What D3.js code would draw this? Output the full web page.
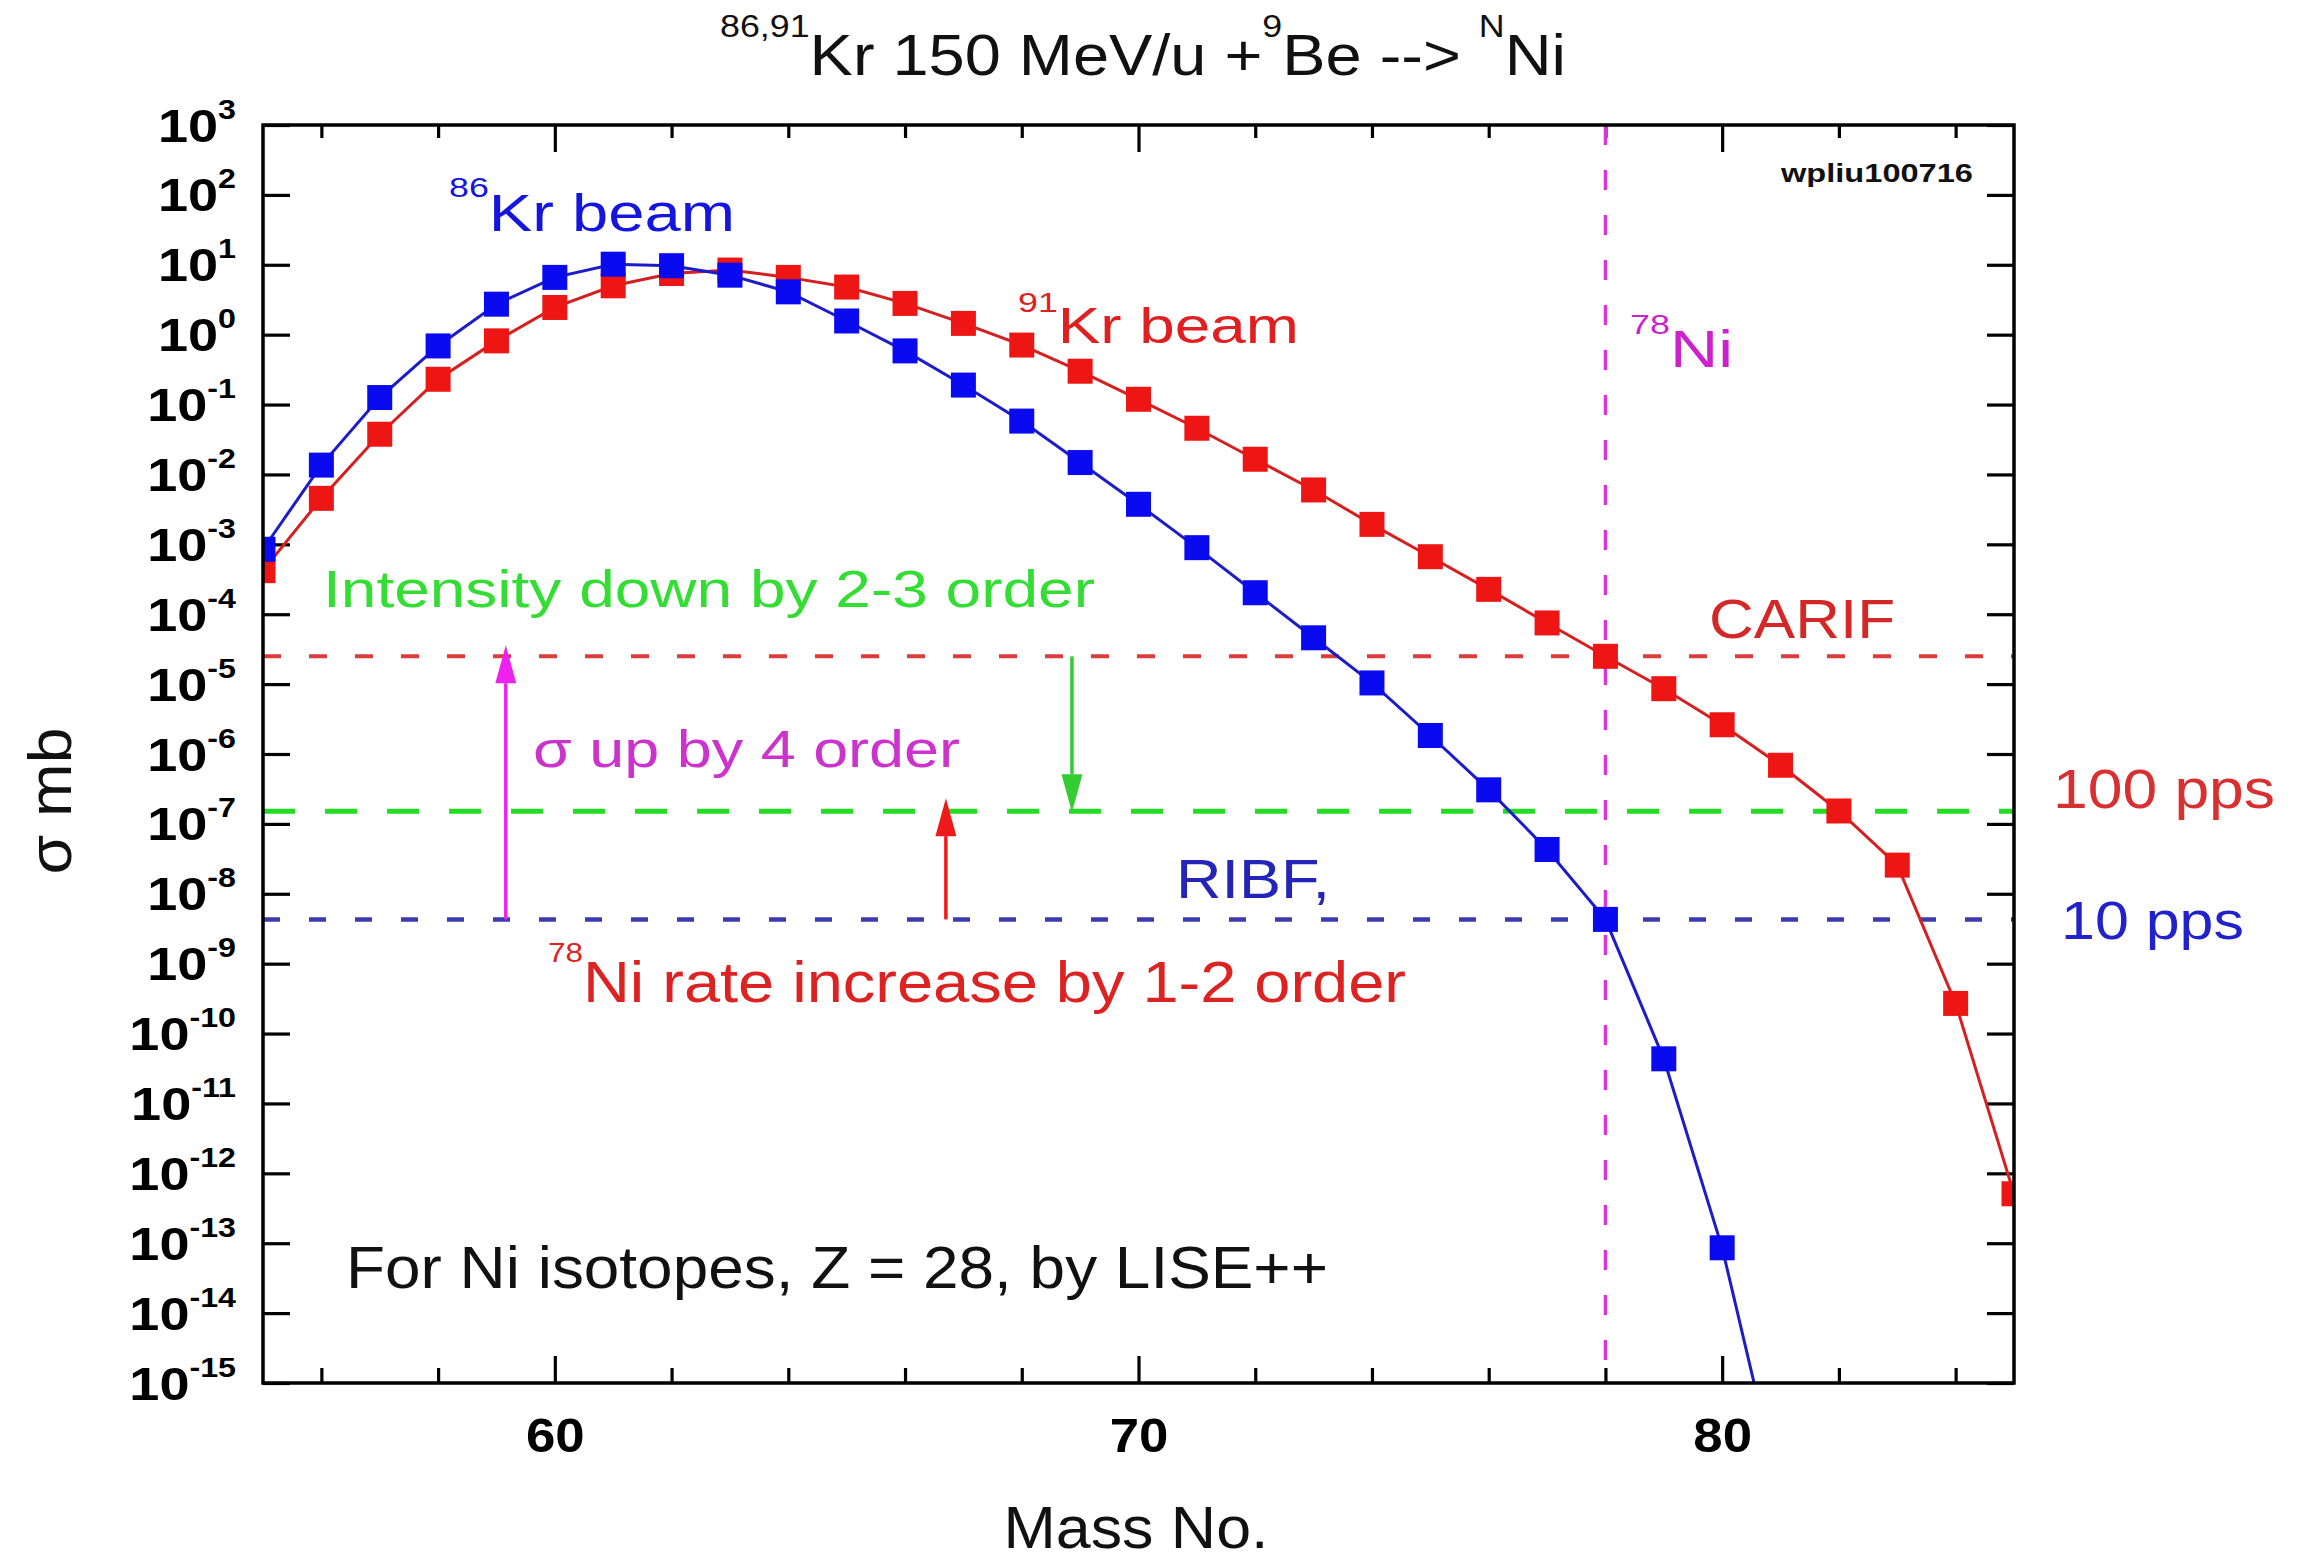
<!DOCTYPE html>
<html><head><meta charset="utf-8">
<script src="https://cdn.jsdelivr.net/npm/d3@7"></script>
<style>body{margin:0;background:#fff}svg{display:block}</style>
</head><body>
<script>
// ---------------- data ----------------
const massKr86 = [55,56,57,58,59,60,61,62,63,64,65,66,67,68,69,70,71,72,73,74,75,76,77,78,79,80,81];
const sigmaKr86 = [8.5e-4,1.36e-2,0.126,0.69,2.73,6.6,10.2,9.7,7.1,4.1,1.57,0.586,0.19,0.058,0.0148,3.74e-3,8.96e-4,2.03e-4,4.6e-5,1.04e-5,1.84e-6,3.07e-7,4.3e-8,4.3e-9,4.35e-11,8.6e-14,2.5e-17];
const massKr91 = [55,56,57,58,59,60,61,62,63,64,65,66,67,68,69,70,71,72,73,74,75,76,77,78,79,80,81,82,83,84,85];
const sigmaKr91 = [4.2e-4,4.55e-3,0.0376,0.23,0.815,2.45,5.0,7.5,8.4,6.6,4.8,2.8,1.45,0.71,0.30,0.119,0.0458,0.0165,6.0e-3,1.93e-3,6.65e-4,2.27e-4,7.5e-5,2.5e-5,8.6e-6,2.62e-6,6.9e-7,1.53e-7,2.57e-8,2.7e-10,5.1e-13];
const levelCARIF = 2.5e-5;   // red dashed
const level100pps = 1.52e-7; // green dashed
const levelRIBF = 4.3e-9;    // blue dashed (10 pps)
const markMass = 78;         // 78Ni
const xMajorTicks = [60,70,80];
const xMinorTicks = [56,58,62,64,66,68,72,74,76,78,82,84];
const yExponents = [3,2,1,0,-1,-2,-3,-4,-5,-6,-7,-8,-9,-10,-11,-12,-13,-14,-15];
const arrowMasses = {sigmaUp:59.16, rateUp:66.7, intensityDown:68.86};

// ---------------- setup ----------------
const W = 2299, H = 1563;
const L = 263, R = 2014, T = 125, B = 1383;
const FONT = "'Liberation Sans', Arial, Helvetica, sans-serif";
const x = d3.scaleLinear().domain([55,85]).range([L,R]);
const y = d3.scaleLog().domain([1e-15,1e3]).range([B,T]);

const svg = d3.select('body').append('svg').attr('width',W).attr('height',H)
  .attr('font-family',FONT);
svg.append('rect').attr('width',W).attr('height',H).attr('fill','#fff');
svg.append('defs').append('clipPath').attr('id','clip')
  .append('rect').attr('x',L).attr('y',T).attr('width',R-L).attr('height',B-T);

function stretch(sel, f){
  sel.each(function(){
    const w = this.getComputedTextLength();
    d3.select(this).attr('textLength', w*f).attr('lengthAdjust','spacingAndGlyphs');
  });
}
function tidy(g){
  g.select('.domain').remove();
  g.selectAll('.tick line').attr('stroke','#000').attr('stroke-width',3.2);
}

// ---------------- axes ----------------
const gxb = svg.append('g').attr('transform',`translate(0,${B})`)
  .call(d3.axisBottom(x).tickValues(xMajorTicks).tickSize(-27).tickFormat(d=>String(d)))
  .call(tidy);
gxb.selectAll('.tick text').attr('y',69).attr('dy',0).attr('fill','#000')
  .attr('font-size',48).attr('font-weight','bold').attr('font-family',FONT);
stretch(gxb.selectAll('.tick text'),1.1);
svg.append('g').attr('transform',`translate(0,${B})`)
  .call(d3.axisBottom(x).tickValues(xMinorTicks).tickSize(-15).tickFormat('')).call(tidy);
svg.append('g').attr('transform',`translate(0,${T})`)
  .call(d3.axisTop(x).tickValues(xMajorTicks).tickSize(-27).tickFormat('')).call(tidy);
svg.append('g').attr('transform',`translate(0,${T})`)
  .call(d3.axisTop(x).tickValues(xMinorTicks).tickSize(-13).tickFormat('')).call(tidy);

const decades = yExponents.map(e=>Math.pow(10,e));
const gyl = svg.append('g').attr('transform',`translate(${L},0)`)
  .call(d3.axisLeft(y).tickValues(decades).tickSize(-27).tickPadding(27).tickFormat(d=>String(d)))
  .call(tidy);
gyl.selectAll('.tick text').each(function(d,i){
  const t = d3.select(this).text(null).attr('y',16).attr('dy',0).attr('fill','#000')
    .attr('font-size',47).attr('font-weight','bold').attr('font-family',FONT);
  t.append('tspan').text('10');
  t.append('tspan').attr('font-size',28).attr('dy',-23).text(String(yExponents[i]));
});
stretch(gyl.selectAll('.tick text'),1.15);
svg.append('g').attr('transform',`translate(${R},0)`)
  .call(d3.axisRight(y).tickValues(decades).tickSize(-27).tickFormat('')).call(tidy);

// ---------------- plot content ----------------
const plot = svg.append('g').attr('clip-path','url(#clip)');

function hline(level, color, width, dash){
  plot.append('line').attr('x1',L).attr('x2',R).attr('y1',y(level)).attr('y2',y(level))
    .attr('stroke',color).attr('stroke-width',width).attr('stroke-dasharray',dash);
}
hline(levelCARIF,'#dc3c3c',4,'18 28');
hline(level100pps,'#22dd22',5,'32 30');
hline(levelRIBF,'#3c3cb0',4.5,'17 29');
plot.append('line').attr('x1',x(markMass)).attr('x2',x(markMass)).attr('y1',T).attr('y2',B)
  .attr('stroke','#dd33dd').attr('stroke-width',3.4).attr('stroke-dasharray','20 25');

// arrows
function arrow(xVal, y1, y2, color){
  const xp = x(xVal), dir = Math.sign(y2-y1), hl = 38, hw = 10.5;
  const by = y2 - dir*hl;
  plot.append('line').attr('x1',xp).attr('x2',xp).attr('y1',y1).attr('y2',by)
    .attr('stroke',color).attr('stroke-width',3.5);
  plot.append('path').attr('d',`M${xp},${y2}L${xp-hw},${by}L${xp+hw},${by}Z`).attr('fill',color);
}
arrow(arrowMasses.sigmaUp, y(levelRIBF), y(levelCARIF)-11, '#ee22ee');
arrow(arrowMasses.rateUp, y(levelRIBF), y(level100pps)-13, '#ee1a1a');
arrow(arrowMasses.intensityDown, y(levelCARIF), y(level100pps)+1, '#33cc33');

const line = d3.line().x(d=>x(d[0])).y(d=>y(d[1]));
const kr91 = massKr91.map((m,i)=>[m,sigmaKr91[i]]);
const kr86 = massKr86.map((m,i)=>[m,sigmaKr86[i]]);
const MS = 25;
function series(data, lineColor, markColor){
  plot.append('path').datum(data).attr('d',line).attr('fill','none')
    .attr('stroke',lineColor).attr('stroke-width',3);
  plot.append('g').selectAll('rect').data(data).join('rect')
    .attr('x',d=>x(d[0])-MS/2).attr('y',d=>y(d[1])-MS/2)
    .attr('width',MS).attr('height',MS).attr('fill',markColor);
}
series(kr91,'#d42020','#ee1515');
series(kr86,'#1c1cc8','#0a0af0');

// frame
svg.append('rect').attr('x',L).attr('y',T).attr('width',R-L).attr('height',B-T)
  .attr('fill','none').attr('stroke','#000').attr('stroke-width',3.5);

// ---------------- texts ----------------
function rich(xp, yp, parts, opt){
  const t = svg.append('text').attr('x',xp).attr('y',yp)
    .attr('font-size',opt.size).attr('fill',opt.color||'#000')
    .attr('font-weight',opt.weight||'normal');
  if(opt.anchor) t.attr('text-anchor',opt.anchor);
  let raised = false;
  parts.forEach(p=>{
    const ts = t.append('tspan').text(p.t);
    if(p.sup){ ts.attr('font-size',opt.supSize).attr('dy',-opt.rise); raised = true; }
    else if(raised){ ts.attr('dy',opt.rise); raised = false; }
  });
  if(opt.len) t.attr('textLength',opt.len).attr('lengthAdjust','spacingAndGlyphs');
  if(opt.rotate) t.attr('transform',`rotate(-90 ${xp} ${yp})`);
  return t;
}
// title
rich(720,75,[{t:'86,91',sup:true},{t:'Kr 150 MeV/u +'},{t:'9',sup:true},{t:'Be --> '},{t:'N',sup:true},{t:'Ni'}],
  {size:58,supSize:32,rise:38,color:'#111',len:846});
// axis titles
rich(1136,1548,[{t:'Mass No.'}],{size:60,color:'#111',anchor:'middle',len:265});
rich(71,801,[{t:'σ mb'}],{size:62,color:'#111',anchor:'middle',len:147,rotate:true});
// annotations
rich(449,231,[{t:'86',sup:true},{t:'Kr beam'}],{size:51,supSize:28,rise:34,color:'#1515e0',len:286});
rich(1018,343,[{t:'91',sup:true},{t:'Kr beam'}],{size:50,supSize:28,rise:31,color:'#e02020',len:281});
rich(1630,367,[{t:'78',sup:true},{t:'Ni'}],{size:52,supSize:28,rise:33,color:'#cc22cc',len:103});
rich(1781,182,[{t:'wpliu100716'}],{size:26,weight:'bold',color:'#111',len:192});
rich(323,607,[{t:'Intensity down by 2-3 order'}],{size:52,color:'#33dd33',len:772});
rich(1709,638,[{t:'CARIF'}],{size:56,color:'#d42828',len:186});
rich(533,767,[{t:'σ up by 4 order'}],{size:52,color:'#cc33cc',len:427});
rich(2053,808,[{t:'100 pps'}],{size:56,color:'#d83030',len:222});
rich(1176,898,[{t:'RIBF,'}],{size:56,color:'#2424b8',len:154});
rich(2061,939,[{t:'10 pps'}],{size:54,color:'#2222cc',len:183});
rich(548,1002,[{t:'78',sup:true},{t:'Ni rate increase by 1-2 order'}],{size:58,supSize:28,rise:40,color:'#dd2222',len:858});
rich(346,1288,[{t:'For Ni isotopes, Z = 28, by LISE++'}],{size:60,color:'#111',len:982});
</script>
</body></html>
